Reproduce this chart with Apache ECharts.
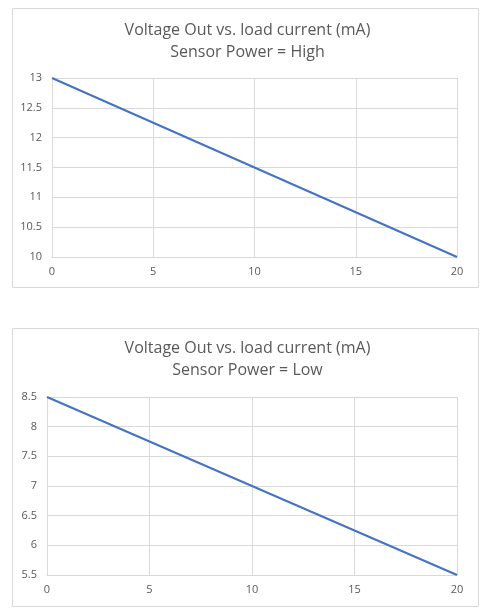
<!DOCTYPE html>
<html>
<head>
<meta charset="utf-8">
<script src="https://cdn.jsdelivr.net/npm/echarts@6/dist/echarts.min.js"></script>
<style>
html,body{margin:0;padding:0;background:#fff;}
#chart{width:495px;height:611px;}
</style>
</head>
<body>
<div id="chart"></div>
<script>
// Data
const loadCurrent = [0, 5, 10, 15, 20];
const voltageHigh = [13, 12.25, 11.5, 10.75, 10];
const voltageLow = [8.5, 7.75, 7, 6.25, 5.5];
const titleHigh = 'Voltage Out vs. load current (mA)\nSensor Power = High';
const titleLow = 'Voltage Out vs. load current (mA)\nSensor Power = Low';

const labelColor = '#595959';
const gridColor = '#d9d9d9';
const lineColor = '#4472C4';
const fontFam = '"Open Sans", "Liberation Sans", sans-serif';

function pairs(xs, ys) { return xs.map((x, i) => [x, ys[i]]); }

function xAxis(gridIndex) {
  return {
    type: 'value', gridIndex, min: 0, max: 20, interval: 5,
    axisLine: { show: true, lineStyle: { color: gridColor, width: 1 } },
    axisTick: { show: false },
    axisLabel: { color: labelColor, fontSize: 11, fontFamily: fontFam, margin: 9 },
    splitLine: { show: true, lineStyle: { color: gridColor, width: 1 } },
    showMinLine: true, showMaxLine: true
  };
}
function yAxis(gridIndex, min, max) {
  return {
    type: 'value', gridIndex, min, max, interval: 0.5,
    axisLine: { show: false },
    axisTick: { show: false },
    axisLabel: { color: labelColor, fontSize: 11, fontFamily: fontFam, margin: 10 },
    splitLine: { show: true, lineStyle: { color: gridColor, width: 1 } }
  };
}

const chart = echarts.init(document.getElementById('chart'), null, { renderer: 'canvas' });
chart.setOption({
  backgroundColor: '#fff',
  animation: false,
  title: [
    { text: titleHigh, left: 'center', top: 19, padding: 0,
      textStyle: { color: labelColor, fontSize: 16, fontWeight: 'normal', fontFamily: fontFam, lineHeight: 22 } },
    { text: titleLow, left: 'center', top: 337, padding: 0,
      textStyle: { color: labelColor, fontSize: 16, fontWeight: 'normal', fontFamily: fontFam, lineHeight: 22 } }
  ],
  graphic: [
    { type: 'rect', shape: { x: 12.5, y: 8.5, width: 466, height: 279 }, style: { fill: 'none', stroke: gridColor, lineWidth: 1 }, z: -1 },
    { type: 'rect', shape: { x: 12.5, y: 328.5, width: 466, height: 278 }, style: { fill: 'none', stroke: gridColor, lineWidth: 1 }, z: -1 }
  ],
  grid: [
    { left: 52, right: 38, top: 78, height: 179 },
    { left: 47, right: 38, top: 397, height: 178 }
  ],
  xAxis: [xAxis(0), xAxis(1)],
  yAxis: [yAxis(0, 10, 13), yAxis(1, 5.5, 8.5)],
  series: [
    { type: 'line', xAxisIndex: 0, yAxisIndex: 0, data: pairs(loadCurrent, voltageHigh),
      showSymbol: false, lineStyle: { color: lineColor, width: 2 }, itemStyle: { color: lineColor } },
    { type: 'line', xAxisIndex: 1, yAxisIndex: 1, data: pairs(loadCurrent, voltageLow),
      showSymbol: false, lineStyle: { color: lineColor, width: 2 }, itemStyle: { color: lineColor } }
  ]
});
</script>
</body>
</html>
